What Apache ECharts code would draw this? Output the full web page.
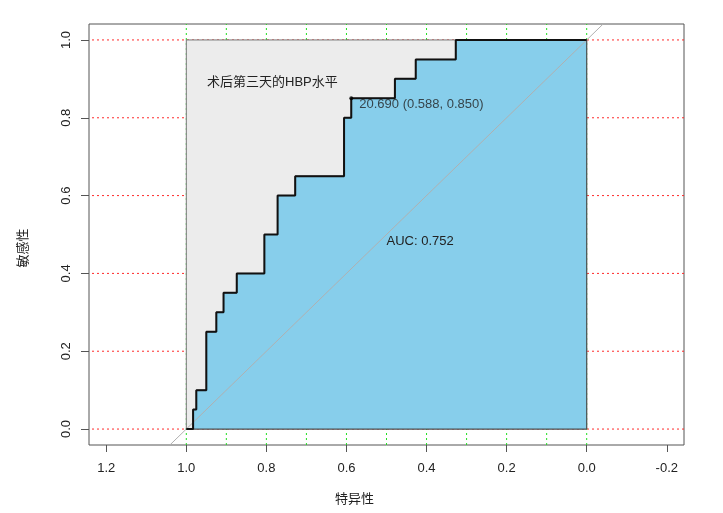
<!DOCTYPE html>
<html>
<head>
<meta charset="utf-8">
<script src="https://cdn.jsdelivr.net/npm/echarts@6/dist/echarts.min.js"></script>
<style>
  html, body { margin: 0; padding: 0; background: #fff; }
  #roc { width: 723px; height: 513px; }
</style>
</head>
<body>
<div id="roc"></div>
<script>
'use strict';
// ROC 曲线的阶梯拐点 (特异性, 敏感性)
const rocSpec = [1.0, 0.983, 0.975, 0.95, 0.925, 0.907, 0.874, 0.805, 0.772, 0.728, 0.606, 0.588, 0.479, 0.427, 0.327, 0.0];
const rocSens = [0.0, 0.05, 0.10, 0.25, 0.30, 0.35, 0.40, 0.50, 0.60, 0.65, 0.80, 0.85, 0.90, 0.95, 1.00, 1.00];
const bestPoint = [0.588, 0.85];
const bestLabel = '20.690 (0.588, 0.850)';
const aucText = 'AUC: 0.752';
const titleText = '术后第三天的HBP水平';
const xTicks = [1.2, 1.0, 0.8, 0.6, 0.4, 0.2, 0.0, -0.2];
const yTicks = [0.0, 0.2, 0.4, 0.6, 0.8, 1.0];
const greenGrid = [1.0, 0.9, 0.8, 0.7, 0.6, 0.5, 0.4, 0.3, 0.2, 0.1, 0.0];
const redGrid = [0.0, 0.2, 0.4, 0.6, 0.8, 1.0];
const xRange = [-0.243, 1.243];
const yRange = [-0.041, 1.041];

function init() {
    const chart = echarts.init(document.getElementById('roc'), null, { renderer: 'canvas' });

    // 阶梯展开：先水平后垂直
    const stepPts = [[rocSpec[0], rocSens[0]]];
    for (let i = 1; i < rocSpec.length; i++) {
        stepPts.push([rocSpec[i], rocSens[i - 1]]);
        stepPts.push([rocSpec[i], rocSens[i]]);
    }
    const aucPoly = stepPts.concat([[0, 0]]);
    const maxPoly = [[1, 0], [1, 1], [0, 1], [0, 0]];
    const diag = [[1 - yRange[0], yRange[0]], [1 - yRange[1], yRange[1]]];

    function polygon(points, fill, stroke) {
        return function (params, api) {
            return {
                type: 'polygon',
                shape: { points: points.map((p) => api.coord(p)) },
                style: { fill: fill, stroke: stroke, lineWidth: 1 },
            };
        };
    }

    // 网格虚线（竖线 / 横线）
    function gridLine(vertical, color) {
        return function (params, api) {
            const v = api.value(0);
            const a = vertical ? api.coord([v, yRange[0]]) : api.coord([xRange[0], v]);
            const b = vertical ? api.coord([v, yRange[1]]) : api.coord([xRange[1], v]);
            return {
                type: 'line',
                shape: { x1: a[0], y1: a[1], x2: b[0], y2: b[1] },
                style: { stroke: color, lineWidth: 1, lineDash: [2, 3] },
            };
        };
    }

    const fontFam = '"Liberation Sans", Arial, "Noto Sans CJK SC", sans-serif';
    const option = {
        animation: false,
        textStyle: { fontFamily: fontFam },
        title: {
            text: titleText,
            left: 202,
            top: 71,
            textStyle: { fontSize: 13, fontWeight: 'normal', color: '#222', fontFamily: fontFam },
        },
        grid: {
            left: 89, right: 39, top: 24, bottom: 68,
            show: true, borderColor: '#555', borderWidth: 1, backgroundColor: 'transparent',
        },
        xAxis: {
            type: 'value',
            inverse: true,
            min: xRange[0],
            max: xRange[1],
            name: '特异性',
            nameLocation: 'middle',
            nameGap: 48,
            nameTextStyle: { fontSize: 13, color: '#222', padding: [0, 64, 0, 0] },
            axisLine: { show: false, onZero: false },
            splitLine: { show: false },
            axisTick: { show: true, length: 7, customValues: xTicks, lineStyle: { color: '#555' } },
            axisLabel: {
                customValues: xTicks, margin: 17, fontSize: 13, color: '#222',
                formatter: (v) => v.toFixed(1),
            },
        },
        yAxis: {
            type: 'value',
            min: yRange[0],
            max: yRange[1],
            name: '敏感性',
            nameLocation: 'middle',
            nameGap: 59,
            nameRotate: 90,
            nameTextStyle: { fontSize: 13, color: '#222', padding: [0, 27, 0, 0] },
            axisLine: { show: false, onZero: false },
            splitLine: { show: false },
            axisTick: { show: true, length: 8, customValues: yTicks, lineStyle: { color: '#555' } },
            axisLabel: {
                customValues: yTicks, margin: 16, fontSize: 13, color: '#222', rotate: 90,
                formatter: (v) => v.toFixed(1),
            },
        },
        series: [
            {
                type: 'custom',
                z: 1,
                data: greenGrid.map((v) => [v]),
                renderItem: gridLine(true, '#22dd22'),
            },
            {
                type: 'custom',
                z: 1,
                data: redGrid.map((v) => [v]),
                renderItem: gridLine(false, '#ff2a2a'),
            },
            {
                type: 'custom',
                z: 2,
                data: [[0, 0]],
                renderItem: polygon(maxPoly, '#ececec', '#777'),
            },
            {
                type: 'custom',
                z: 3,
                data: [[0, 0]],
                renderItem: polygon(aucPoly, '#87ceeb', '#444'),
            },
            {
                type: 'line',
                z: 4,
                data: diag,
                symbol: 'none',
                lineStyle: { color: '#b0b0b0', width: 1 },
            },
            {
                type: 'line',
                z: 5,
                data: stepPts,
                symbol: 'none',
                lineStyle: { color: '#111', width: 2 },
            },
            {
                type: 'scatter',
                z: 6,
                data: [bestPoint],
                symbolSize: 4,
                itemStyle: { color: '#000' },
                label: {
                    show: true,
                    position: 'right',
                    offset: [1, 6],
                    formatter: bestLabel,
                    fontSize: 13,
                    color: '#222',
                },
            },
            {
                type: 'custom',
                z: 6,
                data: [[0.5, 0.5]],
                renderItem: function (params, api) {
                    const p = api.coord([api.value(0), api.value(1)]);
                    return {
                        type: 'text',
                        x: p[0],
                        y: p[1],
                        style: {
                            text: aucText, fill: '#222', font: '13px ' + fontFam,
                            textAlign: 'left', textVerticalAlign: 'top',
                        },
                    };
                },
            },
        ],
    };
    chart.setOption(option);
}

(function () {
    init();
})();
</script>
</body>
</html>
